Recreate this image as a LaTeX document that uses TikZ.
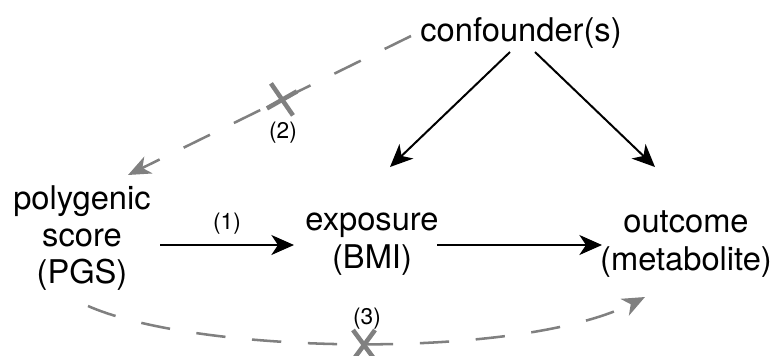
\documentclass[tikz,border=0pt]{standalone}
\usepackage{fontspec}
\setmainfont{TeX Gyre Heros}
\usetikzlibrary{arrows.meta,calc}
\definecolor{dgray}{RGB}{128,128,128}
\begin{document}
\begin{tikzpicture}[x=0.75pt,y=-0.75pt,
  lbl/.style={font=\fontsize{24.5}{28}\selectfont,align=center,inner sep=0pt},
  small/.style={font=\fontsize{17}{19}\selectfont,inner sep=0pt},
  arr/.style={line width=1.5pt,-{Stealth[length=17pt,width=15pt,inset=5pt]}},
  darr/.style={line width=1.9pt,dgray,dash pattern=on 22pt off 20pt,-{Stealth[length=17pt,width=14pt,inset=5pt]}},
  xmark/.style={dgray,line width=3.4pt}]
\useasboundingbox (0,0) rectangle (771,355);
\node[lbl] (conf) at (521,33) {confounder(s)};
\node[lbl] (pgs) at (82,238) {polygenic\\score\\(PGS)};
\node[lbl] (exp) at (372,244) {exposure\\(BMI)};
\node[lbl] (out) at (686,244) {outcome\\(metabolite)};
% solid arrows
\draw[arr] ($(pgs)+(78,7)$) -- ($(exp)+(-78,1)$) node[small,midway,above=7pt] (l1) {(1)};
\draw[arr] ($(exp)+(65,1)$) -- ($(out)+(-84,1)$);
\draw[arr] ($(conf)+(-11,19)$) -- ($(exp)+(18,-77)$);
\draw[arr] ($(conf)+(14,19)$) -- ($(out)+(-31,-77)$);
% dashed (2)
\draw[darr] ($(conf)+(-110,3)$) -- ($(pgs)+(46,-63)$)
  coordinate[pos=0.456] (x2);
\draw[xmark] ($(x2)+(-11,-16)$) -- ($(x2)+(11,16)$);
\draw[xmark] ($(x2)+(-15,9)$) -- ($(x2)+(15,-8)$);
\node[small] (l2) at ($(x2)+(1,33)$) {(2)};
% dashed (3)
\draw[darr] ($(pgs)+(6,68)$) .. controls (200,355) and (520,360) .. ($(out)+(-41,53)$);
\coordinate (x3) at (364,345);
\draw[xmark] ($(x3)+(-11,-15)$) -- ($(x3)+(11,15)$);
\draw[xmark] ($(x3)+(-11,15)$) -- ($(x3)+(11,-15)$);
\node[small] (l3) at ($(x3)+(3,-26)$) {(3)};
\end{tikzpicture}
\end{document}
